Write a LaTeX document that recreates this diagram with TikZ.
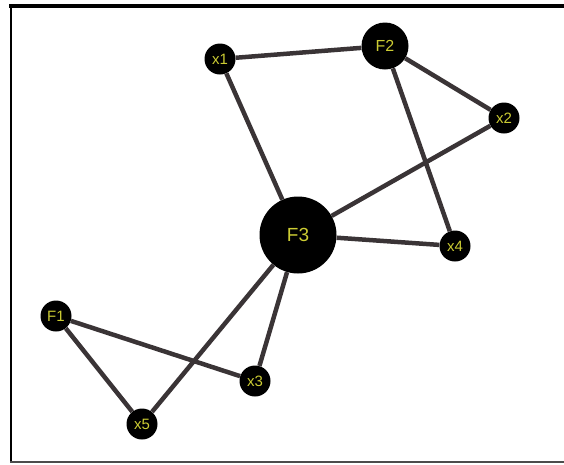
\documentclass[tikz,border=0pt]{standalone}
\usepackage{fontspec}
\setmainfont{Liberation Sans}
\definecolor{edgec}{RGB}{58,52,54}
\definecolor{labc}{RGB}{204,204,51}
\begin{document}
\begin{tikzpicture}[x=1pt,y=-1pt,
  vtx/.style={circle,fill=black,inner sep=0pt,minimum size=#1,text=labc,font=\fontsize{15}{15}\selectfont},
  link/.style={draw=edgec,line width=4.5pt}]
\useasboundingbox (0,0) rectangle (564,464);
\draw[line width=4pt] (9,6) -- (564,6);
\draw[line width=2.5pt] (11,4) -- (11,462);
\draw[line width=2pt,draw=black!70] (10,462) -- (564,462);
\node[vtx=31pt] (x1) at (220,59) {x1};
\node[vtx=47pt,font=\fontsize{16}{16}\selectfont] (F2) at (385,46) {F2};
\node[vtx=31pt] (x2) at (504,118) {x2};
\node[vtx=77pt,font=\fontsize{19}{19}\selectfont] (F3) at (298,235) {F3};
\node[vtx=31pt] (x4) at (455,246) {x4};
\node[vtx=31pt] (F1) at (56,316) {F1};
\node[vtx=31pt] (x3) at (255,381) {x3};
\node[vtx=31pt] (x5) at (142,424) {x5};
\path[link] (x1) -- (F2) (x1) -- (F3) (F2) -- (x2) (F2) -- (x4)
  (x2) -- (F3) (F3) -- (x4) (F3) -- (x3) (F3) -- (x5) (F1) -- (x3) (F1) -- (x5);
\end{tikzpicture}
\end{document}
